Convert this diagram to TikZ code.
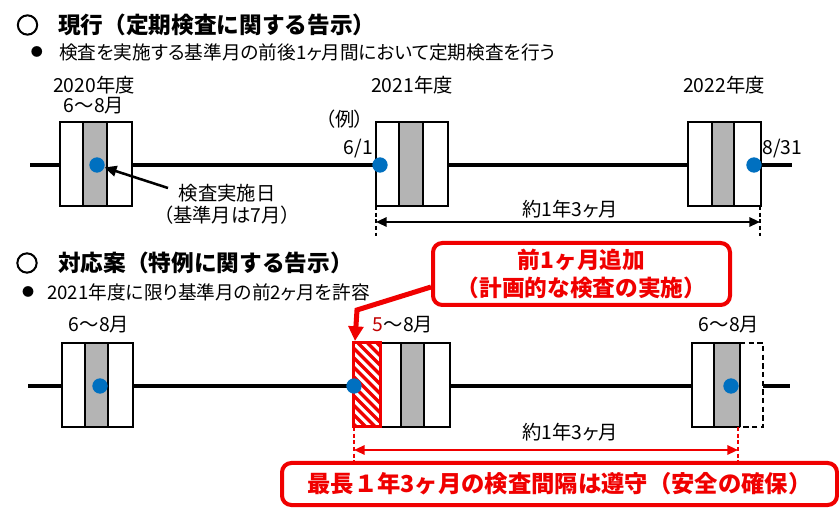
\documentclass[tikz,border=0pt]{standalone}
\usepackage{fontspec}
\setmainfont{Noto Sans CJK JP}[RawFeature=+palt]
\newfontfamily\jpf{Noto Sans CJK JP}
\newfontfamily\circfont{Noto Sans CJK JP}[FakeBold=4]
\usetikzlibrary{arrows.meta}
\definecolor{dotblue}{HTML}{0070C0}
\definecolor{boxgray}{HTML}{B4B4B4}
\definecolor{cred}{HTML}{F00000}
\definecolor{dred}{HTML}{C00000}
\newcommand\tribox[6]{%
  \fill[white] (#1,#5) rectangle (#4,#6);
  \fill[boxgray] (#2,#5) rectangle (#3,#6);
  \draw[bx] (#1,#5) rectangle (#4,#6);
  \draw[bx] (#2,#5) -- (#2,#6) (#3,#5) -- (#3,#6);}
\begin{document}
\begin{tikzpicture}[x=0.75pt,y=-0.75pt,
  every node/.style={inner sep=0pt},
  txt/.style={font=\fontsize{14.5}{17}\selectfont},
  stxt/.style={font=\fontsize{14}{17}\selectfont, anchor=west},
  ttl/.style={font=\jpf\bfseries\fontsize{17}{20}\selectfont, anchor=west},
  circ/.style={font=\circfont\bfseries\fontsize{17}{20}\selectfont},
  bul/.style={font=\fontsize{9}{10}\selectfont},
  bx/.style={line width=1.5pt},
  tl/.style={line width=3pt},
  dot/.style={circle, fill=dotblue, minimum size=11.5pt},
  dimk/.style={line width=1.5pt, {Triangle[length=8pt,width=7pt]}-{Triangle[length=8pt,width=7pt]}},
  vdash/.style={line width=1.5pt, dash pattern=on 3pt off 2pt},
  redbox/.style={draw=cred, line width=3pt, fill=white, rounded corners=7pt,
    font=\jpf\bfseries\fontsize{17}{21}\selectfont, text=cred, align=center}]
\useasboundingbox (0,0) rectangle (839,516);

% ---------- titles ----------
\node[circ] (c1) at (27.5,25) {○};
\node[ttl] (t1) at (58,25) {現行（定期検査に関する告示）};
\node[bul] (b1) at (37,52) {●};
\node[stxt] (s1) at (59,52) {検査を実施する基準月の前後1ヶ月間において定期検査を行う};

% ---------- top timeline ----------
\coordinate (ts) at (30,165);
\coordinate (te) at (792,165);
\draw[tl] (ts) -- (te);
\tribox{60}{83}{107}{132}{122}{206}
\tribox{376}{399}{423}{448}{122}{206}
\tribox{688}{712}{734}{761}{122}{206}
\node[dot] (dot1) at (97,165) {};
\node[dot] (dot2) at (380,165) {};
\node[dot] (dot3) at (754,165) {};

\node[txt] (y20) at (94,85) {2020年度};
\node[txt] (m20) at (94,106) {6～8月};
\node[txt] (y21) at (412,85) {2021年度};
\node[txt] (y22) at (724,85) {2022年度};
\node[txt] (rei) at (345,119) {（例）};
\node[txt, anchor=east] (d61) at (373,149) {6/1};
\node[txt, anchor=west] (d831) at (762,149) {8/31};
\node[txt] (kj1) at (227,193) {検査実施日};
\node[txt] (kj2) at (227,215) {（基準月は7月）};
\coordinate (arS) at (168,188);
\draw[line width=1.9pt, -{Triangle[length=9pt,width=8pt]}] (arS) -- (dot1);

\coordinate (v1a) at (376,206); \coordinate (v1b) at (376,236);
\coordinate (v2a) at (760,206); \coordinate (v2b) at (760,236);
\draw[vdash] (v1a) -- (v1b);
\draw[vdash] (v2a) -- (v2b);
\coordinate (da) at (376,222); \coordinate (db) at (760,222);
\draw[dimk] (da) -- (db);
\node[txt] (p1) at (570,209) {約1年3ヶ月};

% ---------- bottom titles ----------
\node[circ] (c2) at (27,263) {○};
\node[ttl] (t2) at (58,263) {対応案（特例に関する告示）};
\node[bul] (b2) at (28,292) {●};
\node[stxt] (s2) at (47,292) {2021年度に限り基準月の前2ヶ月を許容};

% ---------- bottom timeline ----------
\coordinate (bs) at (28,386);
\coordinate (be) at (790,386);
\draw[tl] (bs) -- (be);
\tribox{62}{85}{108}{133}{343}{427}
\tribox{380}{401}{424}{450}{343}{427}
% hatched extra month
\begin{scope}
  \clip (353,343) rectangle (380,427);
  \fill[white] (353,343) rectangle (380,427);
  \foreach \k in {0,...,13} {\draw[cred, line width=2.5pt] ({263+\k*9.5},343) -- ++(84,84);}
\end{scope}
\draw[cred, line width=2.25pt] (353,343) rectangle (380,427);
% last box, partly dashed
\fill[white] (692,343) rectangle (763,427);
\fill[boxgray] (714,343) rectangle (740,427);
\draw[bx] (740,343) -- (692,343) -- (692,427) -- (740,427);
\draw[bx] (714,343) -- (714,427) (740,343) -- (740,427);
\draw[bx, dash pattern=on 4pt off 2.5pt] (740,343) -- (763,343) -- (763,427) -- (740,427);
\node[dot] (dB1) at (100,386) {};
\node[dot] (dB2) at (354,386) {};
\node[dot] (dB3) at (731,386) {};

\node[txt] (m1) at (99,325) {6～8月};
\node[txt] (m2) at (403,325) {\textcolor{dred}{5}～8月};
\node[txt] (m3) at (729,325) {6～8月};

\coordinate (w1a) at (354,427); \coordinate (w1b) at (354,467);
\coordinate (w2a) at (738,427); \coordinate (w2b) at (738,467);
\draw[vdash, cred] (w1a) -- (w1b);
\draw[vdash, cred] (w2a) -- (w2b);
\coordinate (ea) at (354,450); \coordinate (eb) at (738,450);
\draw[dimk, cred] (ea) -- (eb);
\node[txt] (p2) at (570,432) {約1年3ヶ月};

% ---------- callouts ----------
\node[redbox, minimum width=222.75pt, minimum height=46.5pt] (co) at (581.5,274)
  {前1ヶ月追加\\（計画的な検査の実施）};
\coordinate (bend) at (357,310);
\coordinate (hattop) at (355,341);
\draw[cred, line width=3.75pt, -{Triangle[length=11pt,width=11pt]}]
  ([yshift=-9.75pt]co.west) -- (bend) -- (hattop);
\node[redbox, minimum width=416.25pt, minimum height=31.5pt,
  font=\jpf\bfseries\fontsize{17.5}{21}\selectfont] (bb) at (559.5,484)
  {最長１年3ヶ月の検査間隔は遵守（安全の確保）};
\end{tikzpicture}
\end{document}
